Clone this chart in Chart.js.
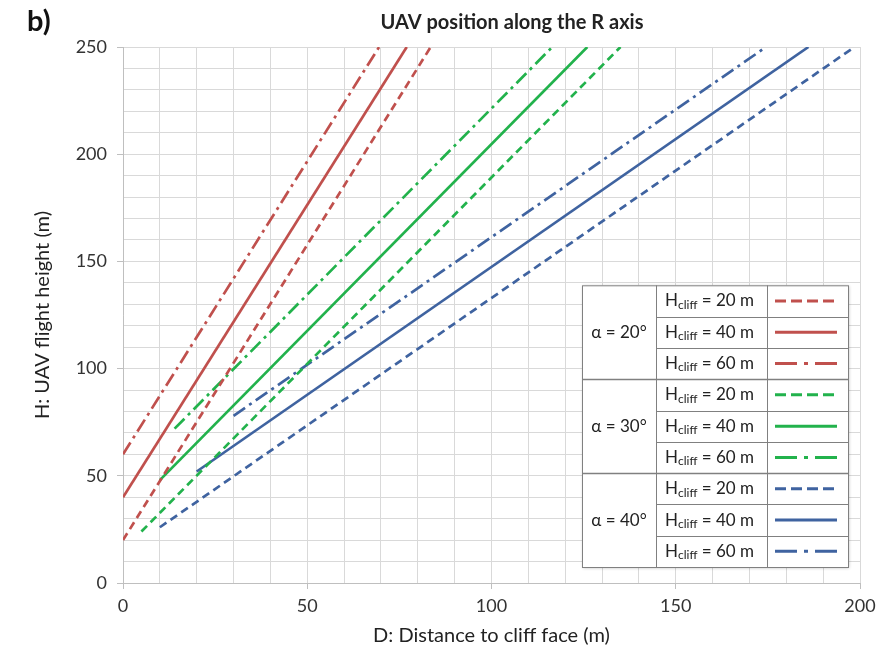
<!DOCTYPE html>
<html>
<head>
<meta charset="utf-8">
<script src="https://cdn.jsdelivr.net/npm/chart.js@4.4.1/dist/chart.umd.min.js"></script>
<style>
  body { margin: 0; background: #fff; }
  #wrap { position: relative; width: 893px; height: 655px; }
</style>
</head>
<body>
<div id="wrap"><canvas id="uavChart"></canvas></div>
<script>
// values: each series is a straight line from start to end
const seriesAlpha = [20, 20, 20, 30, 30, 30, 40, 40, 40];
const seriesHcliff = [20, 40, 60, 20, 40, 60, 20, 40, 60];
const startD = [0, 0, 0, 5, 10, 14, 10, 20, 30];
const startH = [20, 40, 60, 24, 48, 72, 26, 52, 78];
const endD = [83.5, 77, 69.5, 135, 126, 116.5, 198.5, 186, 174.5];
const endH = [250, 250, 250, 250, 250, 250, 250, 250, 250];

const xTickLabels = [0, 50, 100, 150, 200];
const yTickLabels = [0, 50, 100, 150, 200, 250];

const alphaColors = { 20: "#c0504d", 30: "#22b24c", 40: "#3f63a0" };
const cliffDash = { 20: [8, 5], 40: [], 60: [14, 5, 3, 5] };
// dash patterns used for the short samples in the legend table
const legendDash = { 20: [11, 5], 40: [], 60: [22, 7, 4, 7] };

const FONT = "Lato, 'Open Sans', sans-serif";
const TEXT = "#333333";

const datasets = seriesAlpha.map((a, i) => ({
  label: "α = " + a + "°, Hcliff = " + seriesHcliff[i] + " m",
  data: [{ x: startD[i], y: startH[i] }, { x: endD[i], y: endH[i] }],
  showLine: true,
  borderColor: alphaColors[a],
  backgroundColor: alphaColors[a],
  borderWidth: 2.7,
  borderDash: cliffDash[seriesHcliff[i]],
  pointRadius: 0,
  alpha: a,
  hcliff: seriesHcliff[i]
}));

// title and the "b)" panel letter
const headerPlugin = {
  id: "header",
  afterDraw(chart) {
    const ctx = chart.ctx;
    ctx.save();
    ctx.fillStyle = "#111";
    ctx.textBaseline = "middle";
    ctx.font = "bold 29px " + FONT;
    ctx.textAlign = "left";
    ctx.fillText("b)", 27, 22);
    ctx.fillStyle = "#222";
    ctx.font = "bold 20px " + FONT;
    ctx.textAlign = "center";
    ctx.fillText("UAV position along the R axis", 512, 23);
    ctx.restore();
  }
};

// table style legend in the lower right corner
const tableLegend = {
  id: "tableLegend",
  afterDatasetsDraw(chart) {
    const ctx = chart.ctx;
    const area = chart.chartArea;
    const colW = [74, 111, 81];
    const rowH = 31.3;
    const ds = chart.data.datasets;
    const w = colW[0] + colW[1] + colW[2];
    const h = rowH * ds.length;
    const x0 = area.right - 12 - w;
    const y0 = area.bottom - 16 - h;

    ctx.save();
    ctx.shadowColor = "rgba(0,0,0,0.25)";
    ctx.shadowBlur = 3;
    ctx.shadowOffsetX = 1;
    ctx.shadowOffsetY = 1;
    ctx.fillStyle = "#fff";
    ctx.fillRect(x0, y0, w, h);
    ctx.restore();

    ctx.save();
    ctx.strokeStyle = "#808080";
    ctx.lineWidth = 1;
    ctx.strokeRect(x0 + 0.5, y0 + 0.5, w, h);
    // column lines
    ctx.beginPath();
    ctx.moveTo(x0 + colW[0] + 0.5, y0);
    ctx.lineTo(x0 + colW[0] + 0.5, y0 + h);
    ctx.moveTo(x0 + colW[0] + colW[1] + 0.5, y0);
    ctx.lineTo(x0 + colW[0] + colW[1] + 0.5, y0 + h);
    ctx.stroke();

    ctx.textBaseline = "middle";
    ds.forEach((d, i) => {
      const ry = y0 + i * rowH;
      const cy = ry + rowH / 2;
      if (i > 0) {
        const groupStart = d.alpha !== ds[i - 1].alpha;
        ctx.beginPath();
        ctx.lineWidth = groupStart ? 1.5 : 1;
        ctx.strokeStyle = "#808080";
        const lx = groupStart ? x0 : x0 + colW[0];
        ctx.moveTo(lx, Math.round(ry) + 0.5);
        ctx.lineTo(x0 + w, Math.round(ry) + 0.5);
        ctx.stroke();
      }
      // alpha label centred on its group of rows
      if (i === 0 || d.alpha !== ds[i - 1].alpha) {
        let n = 0;
        while (ds[i + n] && ds[i + n].alpha === d.alpha) n++;
        ctx.fillStyle = "#222";
        ctx.font = "17px " + FONT;
        ctx.textAlign = "center";
        ctx.fillText("α = " + d.alpha + "°", x0 + colW[0] / 2, ry + (n * rowH) / 2);
      }
      // H_cliff label with subscript
      ctx.fillStyle = "#222";
      ctx.textAlign = "left";
      let tx = x0 + colW[0] + 9;
      ctx.font = "17px " + FONT;
      ctx.fillText("H", tx, cy);
      tx += ctx.measureText("H").width;
      ctx.font = "12px " + FONT;
      ctx.fillText("cliff", tx, cy + 4);
      tx += ctx.measureText("cliff").width;
      ctx.font = "17px " + FONT;
      ctx.fillText(" = " + d.hcliff + " m", tx, cy);
      // line sample
      const sx = x0 + colW[0] + colW[1] + 8;
      ctx.beginPath();
      ctx.strokeStyle = d.borderColor;
      ctx.lineWidth = 3;
      ctx.setLineDash(legendDash[d.hcliff]);
      ctx.moveTo(sx, cy);
      ctx.lineTo(sx + 62, cy);
      ctx.stroke();
      ctx.setLineDash([]);
    });
    ctx.restore();
  }
};

new Chart(document.getElementById("uavChart"), {
  type: "scatter",
  data: { datasets: datasets },
  options: {
    responsive: true,
    maintainAspectRatio: false,
    animation: false,
    layout: { padding: { top: 47, right: 33, left: 0, bottom: 0 } },
    plugins: {
      legend: { display: false },
      tooltip: { enabled: false }
    },
    scales: {
      x: {
        type: "linear",
        min: 0,
        max: 200,
        ticks: {
          stepSize: 10,
          autoSkip: false,
          maxRotation: 0,
          padding: 6,
          color: TEXT,
          font: { family: FONT, size: 18 },
          callback: v => (xTickLabels.includes(v) ? v : "")
        },
        grid: {
          color: "#d9d9d9",
          tickLength: 6,
          tickColor: c => (xTickLabels.includes(c.tick && c.tick.value) ? "#bfbfbf" : "rgba(0,0,0,0)")
        },
        border: { color: "#bfbfbf" },
        title: {
          display: true,
          text: "D: Distance to cliff face (m)",
          color: "#222",
          font: { family: FONT, size: 20 },
          padding: { top: 0, bottom: 7 }
        },
        afterFit: s => { s.height = 72; }
      },
      y: {
        min: 0,
        max: 250,
        ticks: {
          stepSize: 10,
          autoSkip: false,
          padding: 10,
          color: TEXT,
          font: { family: FONT, size: 18 },
          callback: v => (yTickLabels.includes(v) ? v : "")
        },
        grid: {
          color: "#d9d9d9",
          tickLength: 6,
          tickColor: c => (yTickLabels.includes(c.tick && c.tick.value) ? "#bfbfbf" : "rgba(0,0,0,0)")
        },
        border: { color: "#bfbfbf" },
        title: {
          display: true,
          text: "H: UAV flight height (m)",
          color: "#222",
          font: { family: FONT, size: 20 },
          padding: { top: 31, bottom: 0 }
        },
        afterFit: s => { s.width = 123; }
      }
    }
  },
  plugins: [headerPlugin, tableLegend]
});
</script>
</body>
</html>
